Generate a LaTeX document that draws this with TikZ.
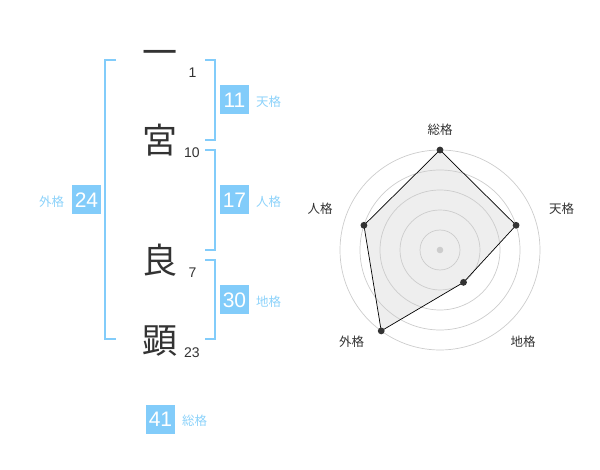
\documentclass[tikz,border=0pt]{standalone}
\usepackage{fontspec}
\setmainfont{Liberation Sans}
\newfontfamily\jpfont{Noto Sans CJK JP}
\definecolor{kakublue}{RGB}{130,204,250}
\definecolor{kakulight}{RGB}{140,210,250}
\definecolor{moji}{RGB}{51,51,51}
\definecolor{radarfill}{RGB}{238,238,238}
\definecolor{radarline}{RGB}{204,204,204}
\tikzset{
  kanji/.style={text=moji, inner sep=0, font=\jpfont\fontsize{35}{35}\selectfont},
  kakusu/.style={text=moji, inner sep=0, font=\fontsize{14}{14}\selectfont},
  kakubox/.style={fill=kakublue, text=white, minimum size=29pt, inner sep=0, font=\fontsize{21}{21}\selectfont},
  kakulabel/.style={text=kakulight, inner sep=0, anchor=west, font=\jpfont\fontsize{12.5}{12.5}\selectfont},
  radarlabel/.style={text=moji, inner sep=0, font=\jpfont\fontsize{12.5}{12.5}\selectfont}
}

\begin{document}
\begin{tikzpicture}[x=1pt, y=-1pt, line width=2pt]
\useasboundingbox (0,0) rectangle (600,470);
			% name
			\node[kanji] (c1) at (160,58) {一};
			\node[kanji] (c2) at (160,140) {宮};
			\node[kanji] (c3) at (160,260) {良};
			\node[kanji] (c4) at (160,341) {顕};
			\node[kakusu] (n1) at (192.5,73) {1};
			\node[kakusu] (n2) at (192,153) {10};
			\node[kakusu] (n3) at (192.5,273) {7};
			\node[kakusu] (n4) at (192,353) {23};
			% brackets
			\draw[kakublue] (116,60) -- (105,60) -- (105,339) -- (116,339);
			\draw[kakublue] (205,60) -- (215,60) -- (215,140) -- (205,140);
			\draw[kakublue] (205,150) -- (215,150) -- (215,250) -- (205,250);
			\draw[kakublue] (205,260) -- (215,260) -- (215,339) -- (205,339);
			% kaku
			\node[kakubox] (ten) at (234.5,100) {11};
			\node[kakulabel] at ([xshift=5pt, yshift=-2pt]ten.east) {天格};
			\node[kakubox] (jin) at (234.5,200) {17};
			\node[kakulabel] at ([xshift=5pt, yshift=-2pt]jin.east) {人格};
			\node[kakubox] (chi) at (234.5,300) {30};
			\node[kakulabel] at ([xshift=5pt, yshift=-2pt]chi.east) {地格};
			\node[kakubox] (gai) at (86.5,200) {24};
			\node[kakulabel, anchor=east] at ([xshift=-6pt, yshift=-2pt]gai.west) {外格};
			\node[kakubox] (sou) at (160.5,419) {41};
			\node[kakulabel] at ([xshift=5pt, yshift=-2pt]sou.east) {総格};
			% radar
			\begin{scope}[shift={(440,250)}, y=1pt]
			\foreach \a/\r/\n in {90/100/rsou, 18/80/rten, -54/40/rchi, -126/100/rgai, 162/80/rjin}
				\coordinate (\n) at (\a:\r);
			\fill[radarfill] (rsou) -- (rten) -- (rchi) -- (rgai) -- (rjin) -- cycle;
			\foreach \r in {20,40,...,100}
				\draw[radarline, line width=0.7pt] (0,0) circle [radius=\r pt];
			\fill[radarline] (0,0) circle [radius=3.3pt];
			\draw[black, line width=0.7pt] (rsou) -- (rten) -- (rchi) -- (rgai) -- (rjin) -- cycle;
			\foreach \n in {rsou, rten, rchi, rgai, rjin}
				\fill[moji] (\n) circle [radius=3.4pt];
			\node[radarlabel] (lsou) at (0,120) {総格};
			\node[radarlabel] (lten) at (121.7,41.7) {天格};
			\node[radarlabel] (lchi) at (83,-91.7) {地格};
			\node[radarlabel] (lgai) at (-88.3,-91.7) {外格};
			\node[radarlabel] (ljin) at (-120,41.7) {人格};
			\end{scope}
\end{tikzpicture}
\end{document}
